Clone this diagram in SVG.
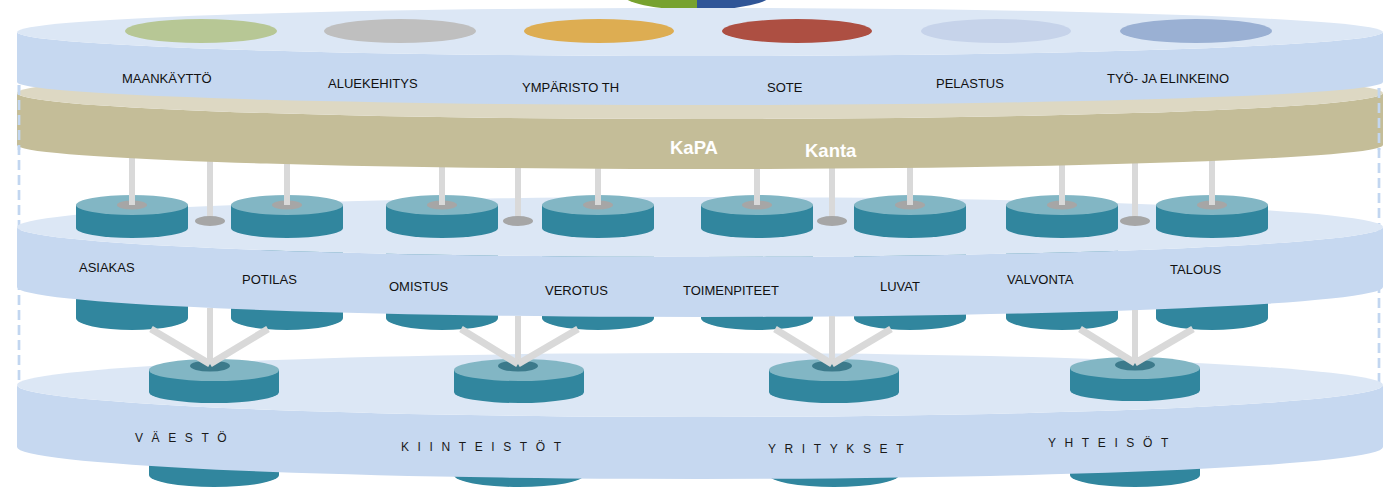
<svg xmlns="http://www.w3.org/2000/svg" width="1397" height="491" viewBox="0 0 1397 491">
<style>
.face{fill:#dce7f5}
.side{fill:#c6d8f0}
.bface{fill:#ddd8c3}
.bside{fill:#c4bd98}
.ctop{fill:#82b6c4}
.cside{fill:#31869e}
.udot{fill:#a6a6a6}
.ldot{fill:#3c7a8b}
.lbl{font-family:"Liberation Sans",Arial,sans-serif;font-size:13px;fill:#111}
.sp{font-family:"Liberation Sans",Arial,sans-serif;font-size:12px;fill:#1a1a1a;letter-spacing:8.6px}
.kapa{font-family:"Liberation Sans",Arial,sans-serif;font-size:18.5px;font-weight:bold;fill:#fff}
.bar{stroke:#d9d9d9;stroke-width:6;fill:none}
.vl{stroke:#d9d9d9;stroke-width:7;fill:none}
.dash{stroke:#c2d6f0;stroke-width:2.7;stroke-dasharray:10 5;fill:none}
</style>
<rect width="1397" height="491" fill="#ffffff"/>
<g id="guides">
<line class="dash" x1="19" y1="85" x2="19" y2="385"/>
<line class="dash" x1="1379" y1="88" x2="1379" y2="385"/>
</g>
<g id="lower-legs">
<path class="cside" d="M149,420 V475 A65,12 0 0 0 279,475 V420 Z"/>
<path class="cside" d="M454,420 V475 A65,12 0 0 0 584,475 V420 Z"/>
<path class="cside" d="M769,420 V475 A65,12 0 0 0 899,475 V420 Z"/>
<path class="cside" d="M1070,420 V475 A65,12 0 0 0 1200,475 V420 Z"/>
</g>
<g id="layer-bottom">
<path class="side" d="M17,385 A683,32 0 0 0 1383,385 V447 A683,32 0 0 1 17,447 Z"/>
<ellipse class="face" cx="700" cy="385" rx="683" ry="32"/>
<text class="sp" x="135" y="442">VÄESTÖ</text>
<text class="sp" x="401" y="451">KIINTEISTÖT</text>
<text class="sp" x="768" y="453">YRITYKSET</text>
<text class="sp" x="1048" y="447">YHTEISÖT</text>
</g>
<g id="vaesto">
<path class="cside" d="M149,370 V392 A65,11 0 0 0 279,392 V370 Z"/>
<ellipse class="ctop" cx="214" cy="370" rx="65" ry="11"/>
<ellipse class="ldot" cx="210" cy="366" rx="20" ry="5.5"/>
</g>
<g id="kiinteistot">
<path class="cside" d="M454,370 V392 A65,11 0 0 0 584,392 V370 Z"/>
<ellipse class="ctop" cx="519" cy="370" rx="65" ry="11"/>
<ellipse class="ldot" cx="518" cy="366" rx="20" ry="5.5"/>
</g>
<g id="yritykset">
<path class="cside" d="M769,370 V392 A65,11 0 0 0 899,392 V370 Z"/>
<ellipse class="ctop" cx="834" cy="370" rx="65" ry="11"/>
<ellipse class="ldot" cx="832" cy="366" rx="20" ry="5.5"/>
</g>
<g id="yhteisot">
<path class="cside" d="M1070,368 V390 A65,11 0 0 0 1200,390 V368 Z"/>
<ellipse class="ctop" cx="1135" cy="368" rx="65" ry="11"/>
<ellipse class="ldot" cx="1135" cy="365" rx="20" ry="5.5"/>
</g>
<g id="upper-legs">
<path class="cside" d="M76,250 V318 A56,12 0 0 0 188,318 V250 Z"/>
<path class="cside" d="M231,250 V318 A56,12 0 0 0 343,318 V250 Z"/>
<path class="cside" d="M386,250 V318 A56,12 0 0 0 498,318 V250 Z"/>
<path class="cside" d="M542,250 V318 A56,12 0 0 0 654,318 V250 Z"/>
<path class="cside" d="M701,250 V318 A56,12 0 0 0 813,318 V250 Z"/>
<path class="cside" d="M854,250 V318 A56,12 0 0 0 966,318 V250 Z"/>
<path class="cside" d="M1006,250 V318 A56,12 0 0 0 1118,318 V250 Z"/>
<path class="cside" d="M1156,250 V318 A56,12 0 0 0 1268,318 V250 Z"/>
</g>
<g id="layer-middle">
<path class="side" d="M17,227 A683,30 0 0 0 1383,227 V287 A683,30 0 0 1 17,287 Z"/>
<ellipse class="face" cx="700" cy="227" rx="683" ry="30"/>
<text class="lbl" x="79" y="272">ASIAKAS</text>
<text class="lbl" x="242" y="284">POTILAS</text>
<text class="lbl" x="389" y="291">OMISTUS</text>
<text class="lbl" x="545" y="295">VEROTUS</text>
<text class="lbl" x="683" y="295">TOIMENPITEET</text>
<text class="lbl" x="880" y="291">LUVAT</text>
<text class="lbl" x="1007" y="284">VALVONTA</text>
<text class="lbl" x="1170" y="274">TALOUS</text>
</g>
<g id="asiakas"><path class="cside" d="M76,205 V228 A56,10 0 0 0 188,228 V205 Z"/><ellipse class="ctop" cx="132" cy="205" rx="56" ry="10"/><ellipse class="udot" cx="132" cy="205" rx="15" ry="4.5"/></g>
<g id="potilas"><path class="cside" d="M231,205 V228 A56,10 0 0 0 343,228 V205 Z"/><ellipse class="ctop" cx="287" cy="205" rx="56" ry="10"/><ellipse class="udot" cx="287" cy="205" rx="15" ry="4.5"/></g>
<g id="omistus"><path class="cside" d="M386,205 V228 A56,10 0 0 0 498,228 V205 Z"/><ellipse class="ctop" cx="442" cy="205" rx="56" ry="10"/><ellipse class="udot" cx="442" cy="205" rx="15" ry="4.5"/></g>
<g id="verotus"><path class="cside" d="M542,205 V228 A56,10 0 0 0 654,228 V205 Z"/><ellipse class="ctop" cx="598" cy="205" rx="56" ry="10"/><ellipse class="udot" cx="598" cy="205" rx="15" ry="4.5"/></g>
<g id="toimenpiteet"><path class="cside" d="M701,205 V228 A56,10 0 0 0 813,228 V205 Z"/><ellipse class="ctop" cx="757" cy="205" rx="56" ry="10"/><ellipse class="udot" cx="757" cy="205" rx="15" ry="4.5"/></g>
<g id="luvat"><path class="cside" d="M854,205 V228 A56,10 0 0 0 966,228 V205 Z"/><ellipse class="ctop" cx="910" cy="205" rx="56" ry="10"/><ellipse class="udot" cx="910" cy="205" rx="15" ry="4.5"/></g>
<g id="valvonta"><path class="cside" d="M1006,205 V228 A56,10 0 0 0 1118,228 V205 Z"/><ellipse class="ctop" cx="1062" cy="205" rx="56" ry="10"/><ellipse class="udot" cx="1062" cy="205" rx="15" ry="4.5"/></g>
<g id="talous"><path class="cside" d="M1156,205 V228 A56,10 0 0 0 1268,228 V205 Z"/><ellipse class="ctop" cx="1212" cy="205" rx="56" ry="10"/><ellipse class="udot" cx="1212" cy="205" rx="15" ry="4.5"/></g>
<g id="connectors">
<line class="bar" x1="132" y1="155" x2="132" y2="205"/>
<line class="bar" x1="287" y1="160" x2="287" y2="205"/>
<line class="bar" x1="442" y1="164" x2="442" y2="205"/>
<line class="bar" x1="598" y1="165" x2="598" y2="205"/>
<line class="bar" x1="757" y1="165" x2="757" y2="205"/>
<line class="bar" x1="910" y1="164" x2="910" y2="205"/>
<line class="bar" x1="1062" y1="162" x2="1062" y2="205"/>
<line class="bar" x1="1212" y1="157" x2="1212" y2="205"/>
<line class="bar" x1="210" y1="158" x2="210" y2="221"/>
<line class="bar" x1="518" y1="165" x2="518" y2="221"/>
<line class="bar" x1="832" y1="165" x2="832" y2="221"/>
<line class="bar" x1="1135" y1="160" x2="1135" y2="221"/>
<ellipse class="udot" cx="210" cy="221" rx="15" ry="5"/>
<ellipse class="udot" cx="518" cy="221" rx="15" ry="5"/>
<ellipse class="udot" cx="832" cy="221" rx="15" ry="5"/>
<ellipse class="udot" cx="1135" cy="221" rx="15" ry="5"/>
<line class="bar" x1="210" y1="308" x2="210" y2="364"/>
<line class="bar" x1="518" y1="316" x2="518" y2="364"/>
<line class="bar" x1="832" y1="316" x2="832" y2="364"/>
<line class="bar" x1="1135" y1="310" x2="1135" y2="363"/>
<line class="vl" x1="151" y1="329" x2="210" y2="364"/>
<line class="vl" x1="268" y1="329" x2="210" y2="364"/>
<line class="vl" x1="461" y1="329" x2="518" y2="364"/>
<line class="vl" x1="578" y1="329" x2="518" y2="364"/>
<line class="vl" x1="775" y1="329" x2="832" y2="364"/>
<line class="vl" x1="891" y1="329" x2="832" y2="364"/>
<line class="vl" x1="1080" y1="329" x2="1135" y2="363"/>
<line class="vl" x1="1193" y1="329" x2="1135" y2="363"/>
</g>
<g id="layer-kapa">
<path class="bside" d="M17,93 A683,26 0 0 0 1383,93 V145 A683,24 0 0 1 17,145 Z"/>
<ellipse class="bface" cx="700" cy="93" rx="683" ry="26"/>
<text class="kapa" x="670" y="154">KaPA</text>
<text class="kapa" x="805" y="157">Kanta</text>
</g>
<g id="guides-front">
<line class="dash" x1="19" y1="85" x2="19" y2="150"/>
<line class="dash" x1="1379" y1="88" x2="1379" y2="150"/>
</g>
<g id="pie">
<path d="M697,-22 A75,16 0 0 0 697,10 Z" fill="#77a22f"/>
<path d="M697,-22 A75,16 0 0 1 697,10 Z" fill="#2f5597"/>
</g>
<g id="layer-top">
<path class="side" d="M17,32 A683,24 0 0 0 1383,32 V82 A683,23 0 0 1 17,82 Z"/>
<ellipse class="face" cx="700" cy="32" rx="683" ry="24"/>
<ellipse cx="201" cy="31" rx="76" ry="12" fill="#b7c795"/>
<ellipse cx="400" cy="31" rx="76" ry="12" fill="#bfbfbf"/>
<ellipse cx="599" cy="31" rx="75" ry="12" fill="#ddad52"/>
<ellipse cx="797" cy="31" rx="75" ry="12" fill="#ad4f42"/>
<ellipse cx="996" cy="31" rx="75" ry="12" fill="#c6d3ea"/>
<ellipse cx="1196" cy="31" rx="76" ry="12" fill="#9ab0d3"/>
<text class="lbl" x="122" y="83">MAANKÄYTTÖ</text>
<text class="lbl" x="328" y="88">ALUEKEHITYS</text>
<text class="lbl" x="522" y="92">YMPÄRISTO TH</text>
<text class="lbl" x="767" y="92">SOTE</text>
<text class="lbl" x="936" y="88">PELASTUS</text>
<text class="lbl" x="1107" y="83">TYÖ- JA ELINKEINO</text>
</g>
</svg>
